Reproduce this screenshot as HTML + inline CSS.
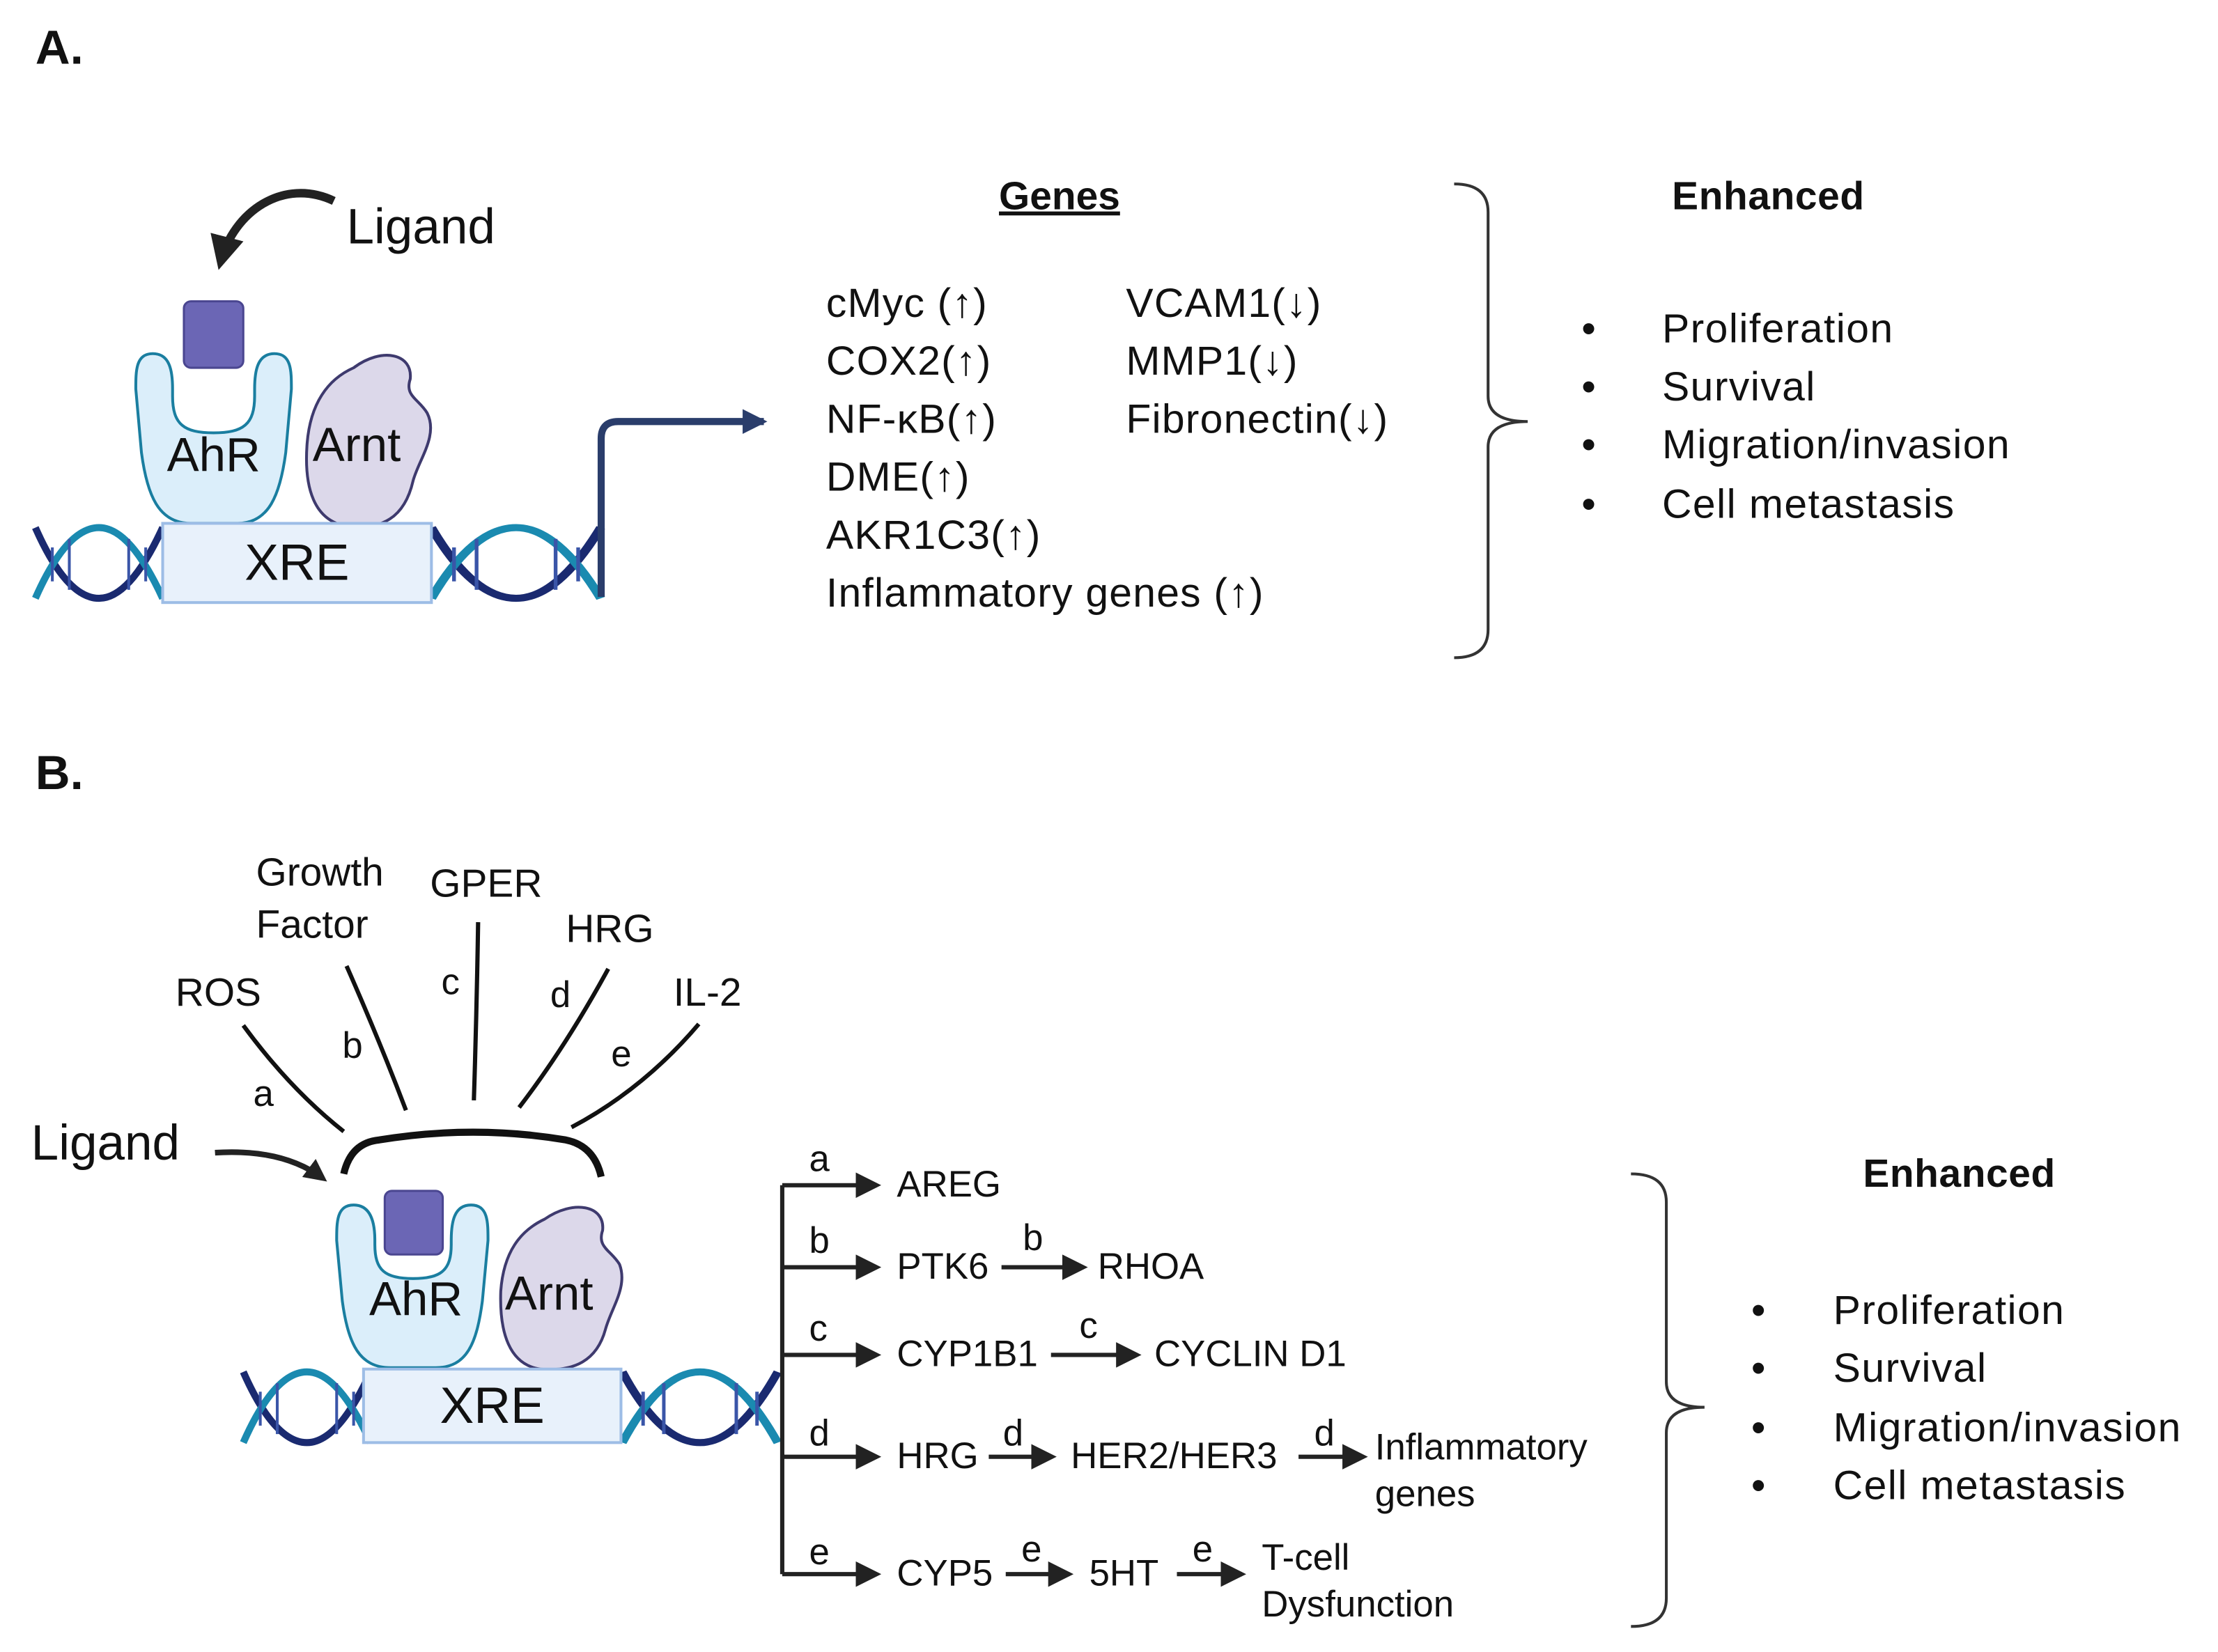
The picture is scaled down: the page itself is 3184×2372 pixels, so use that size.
<!DOCTYPE html>
<html><head><meta charset="utf-8"><style>
html,body{margin:0;padding:0;background:#fff}
svg{display:block}
text{font-family:"Liberation Sans",sans-serif;fill:#111}
</style></head><body>
<svg width="3184" height="2372" viewBox="0 0 1568 1168" xmlns="http://www.w3.org/2000/svg">
<defs>
<marker id="ah" markerWidth="6" markerHeight="6" refX="5" refY="3" orient="auto" markerUnits="strokeWidth"><path d="M0,0 L6,3 L0,6 z" fill="#222"/></marker>
<marker id="ahs" markerWidth="4" markerHeight="4" refX="3" refY="2" orient="auto" markerUnits="strokeWidth"><path d="M0,0 L4,2 L0,4 z" fill="#222"/></marker>
<marker id="ahb" markerWidth="3.5" markerHeight="3.5" refX="3" refY="1.75" orient="auto" markerUnits="strokeWidth"><path d="M0,0 L3.5,1.75 L0,3.5 z" fill="#2a3d6b"/></marker>
<g id="dnaL">
<path d="M0,0 q22,50 45,50 q22,0 45,-50" fill="none" stroke="#1a2a70" stroke-width="5"/>
<path d="M0,50 q22,-50 45,-50 q22,0 45,50" fill="none" stroke="#1a8ab0" stroke-width="5"/>
<g stroke="#3a55a8" stroke-width="2"><line x1="12" y1="14" x2="12" y2="38"/><line x1="24" y1="8" x2="24" y2="44"/><line x1="66" y1="8" x2="66" y2="44"/><line x1="78" y1="14" x2="78" y2="38"/></g>
</g>
</defs>

<!-- Panel A -->
<text x="25" y="45" font-size="34" font-weight="bold">A.</text>
<text x="245" y="172" font-size="35">Ligand</text>
<path d="M236,142 C200,125 165,150 156,185" fill="none" stroke="#222" stroke-width="6" marker-end="url(#ahs)"/>
<rect x="130" y="213" width="42" height="47" rx="5" fill="#6b66b5" stroke="#4a4690" stroke-width="1.5"/>
<path d="M108,250 C96,250 96,262 96,275 L100,320 C104,350 112,370 135,370 L168,370 C190,370 198,350 202,320 L206,275 C206,262 206,250 194,250 C182,250 180,262 180,275 L180,280 C180,300 172,306 151,306 C130,306 122,300 122,280 L122,275 C122,262 120,250 108,250 Z" fill="#dbeefa" stroke="#1a7ea0" stroke-width="2"/>
<text x="118" y="333" font-size="34">AhR</text>
<path d="M250,260 C270,245 292,250 290,268 C286,280 296,282 302,292 C310,308 296,325 292,340 C286,366 270,375 245,372 C222,368 215,345 217,315 C219,285 232,268 250,260 Z" fill="#dcd8ea" stroke="#3e3a6e" stroke-width="2"/>
<text x="221" y="326" font-size="34">Arnt</text>
<use href="#dnaL" x="25" y="373"/>
<g transform="translate(305,373) scale(1.33,1)"><use href="#dnaL"/></g>
<rect x="115" y="370" width="190" height="56" fill="#e8f1fb" stroke="#9dbde6" stroke-width="2"/>
<text x="210" y="410" font-size="36" text-anchor="middle">XRE</text>
<path d="M425,422 L425,310 Q425,298 437,298 L540,298" fill="none" stroke="#2a3d6b" stroke-width="5" marker-end="url(#ahb)"/>

<text x="749" y="148" font-size="28" font-weight="bold" text-anchor="middle" text-decoration="underline">Genes</text>
<g font-size="29" letter-spacing="0.6">
<text x="584" y="224">cMyc (<tspan font-weight="bold">↑</tspan>)</text>
<text x="584" y="265">COX2(<tspan font-weight="bold">↑</tspan>)</text>
<text x="584" y="306">NF-κB(<tspan font-weight="bold">↑</tspan>)</text>
<text x="584" y="347">DME(<tspan font-weight="bold">↑</tspan>)</text>
<text x="584" y="388">AKR1C3(<tspan font-weight="bold">↑</tspan>)</text>
<text x="584" y="429">Inflammatory genes (<tspan font-weight="bold">↑</tspan>)</text>
<text x="796" y="224">VCAM1(<tspan font-weight="bold">↓</tspan>)</text>
<text x="796" y="265">MMP1(<tspan font-weight="bold">↓</tspan>)</text>
<text x="796" y="306">Fibronectin(<tspan font-weight="bold">↓</tspan>)</text>
</g>
<path d="M1028,130 Q1052,130 1052,150 L1052,280 Q1052,298 1080,298 Q1052,298 1052,316 L1052,445 Q1052,465 1028,465" fill="none" stroke="#333" stroke-width="2"/>
<text x="1182" y="148" font-size="28" font-weight="bold" letter-spacing="0.3">Enhanced</text>
<g font-size="29" letter-spacing="0.7">
<text x="1118" y="242">•</text><text x="1175" y="242">Proliferation</text>
<text x="1118" y="283">•</text><text x="1175" y="283">Survival</text>
<text x="1118" y="324">•</text><text x="1175" y="324">Migration/invasion</text>
<text x="1118" y="366">•</text><text x="1175" y="366">Cell metastasis</text>
</g>

<!-- Panel B -->
<text x="25" y="558" font-size="34" font-weight="bold">B.</text>
<g font-size="28">
<text x="181" y="626">Growth</text><text x="181" y="663">Factor</text>
<text x="304" y="634">GPER</text>
<text x="400" y="666">HRG</text>
<text x="124" y="711">ROS</text>
<text x="476" y="711">IL-2</text>
</g>
<g fill="none" stroke="#111" stroke-width="3">
<path d="M172,725 Q205,770 243,800"/>
<path d="M245,683 Q268,735 287,785"/>
<path d="M338,652 Q337,715 335,778"/>
<path d="M430,685 Q400,740 367,783"/>
<path d="M494,724 Q455,770 404,797"/>
<path d="M243,830 Q248,808 268,806 Q335,795 400,806 Q420,810 425,832" stroke-width="5"/>
</g>
<g font-size="26">
<text x="179" y="782">a</text><text x="242" y="748">b</text><text x="312" y="703">c</text><text x="389" y="712">d</text><text x="432" y="754">e</text>
</g>
<text x="22" y="820" font-size="35">Ligand</text>
<path d="M152,815 Q200,812 228,833" fill="none" stroke="#222" stroke-width="4" marker-end="url(#ahs)"/>

<rect x="272" y="842" width="41" height="45" rx="5" fill="#6b66b5" stroke="#4a4690" stroke-width="1.5"/>
<path d="M250,852 C238,852 238,864 238,877 L242,920 C246,950 254,967 276,967 L308,967 C330,967 337,950 341,920 L345,877 C345,864 345,852 333,852 C321,852 319,864 319,877 L319,880 C319,898 312,904 292,904 C272,904 265,898 265,880 L265,877 C265,864 262,852 250,852 Z" fill="#dbeefa" stroke="#1a7ea0" stroke-width="2"/>
<text x="261" y="930" font-size="34">AhR</text>
<path d="M385,862 C405,848 428,852 426,870 C422,882 432,884 438,894 C444,910 432,925 428,940 C422,962 406,970 382,968 C360,965 353,942 354,913 C356,885 368,870 385,862 Z" fill="#dcd8ea" stroke="#3e3a6e" stroke-width="2"/>
<text x="357" y="926" font-size="34">Arnt</text>
<use href="#dnaL" x="172" y="970"/>
<g transform="translate(440,970) scale(1.22,1)"><use href="#dnaL"/></g>
<rect x="257" y="968" width="182" height="52" fill="#e8f1fb" stroke="#9dbde6" stroke-width="2"/>
<text x="348" y="1006" font-size="36" text-anchor="middle">XRE</text>

<g stroke="#222" stroke-width="3" fill="none">
<path d="M553,838 L553,1113"/>
<line x1="553" y1="838" x2="620" y2="838" marker-end="url(#ah)"/>
<line x1="553" y1="896" x2="620" y2="896" marker-end="url(#ah)"/>
<line x1="553" y1="958" x2="620" y2="958" marker-end="url(#ah)"/>
<line x1="553" y1="1030" x2="620" y2="1030" marker-end="url(#ah)"/>
<line x1="553" y1="1113" x2="620" y2="1113" marker-end="url(#ah)"/>
<line x1="708" y1="896" x2="766" y2="896" marker-end="url(#ah)"/>
<line x1="743" y1="958" x2="804" y2="958" marker-end="url(#ah)"/>
<line x1="699" y1="1030" x2="744" y2="1030" marker-end="url(#ah)"/>
<line x1="918" y1="1030" x2="964" y2="1030" marker-end="url(#ah)"/>
<line x1="711" y1="1113" x2="756" y2="1113" marker-end="url(#ah)"/>
<line x1="832" y1="1113" x2="878" y2="1113" marker-end="url(#ah)"/>
</g>
<g font-size="26">
<text x="572" y="828">a</text><text x="572" y="886">b</text><text x="572" y="948">c</text><text x="572" y="1022">d</text><text x="572" y="1106">e</text>
<text x="723" y="884">b</text><text x="763" y="946">c</text><text x="709" y="1022">d</text><text x="929" y="1022">d</text><text x="722" y="1104">e</text><text x="843" y="1104">e</text>
<text x="634" y="846">AREG</text>
<text x="634" y="904">PTK6</text><text x="776" y="904">RHOA</text>
<text x="634" y="966">CYP1B1</text><text x="816" y="966">CYCLIN D1</text>
<text x="634" y="1038">HRG</text><text x="757" y="1038">HER2/HER3</text>
<text x="972" y="1032">Inflammatory</text><text x="972" y="1065">genes</text>
<text x="634" y="1121">CYP5</text><text x="770" y="1121">5HT</text>
<text x="892" y="1110">T-cell</text><text x="892" y="1143">Dysfunction</text>
</g>
<path d="M1153,830 Q1178,830 1178,850 L1178,977 Q1178,995 1205,995 Q1178,995 1178,1013 L1178,1130 Q1178,1150 1153,1150" fill="none" stroke="#333" stroke-width="2"/>
<text x="1317" y="839" font-size="28" font-weight="bold" letter-spacing="0.3">Enhanced</text>
<g font-size="29" letter-spacing="0.7">
<text x="1238" y="936">•</text><text x="1296" y="936">Proliferation</text>
<text x="1238" y="977">•</text><text x="1296" y="977">Survival</text>
<text x="1238" y="1019">•</text><text x="1296" y="1019">Migration/invasion</text>
<text x="1238" y="1060">•</text><text x="1296" y="1060">Cell metastasis</text>
</g>
</svg>
</body></html>
